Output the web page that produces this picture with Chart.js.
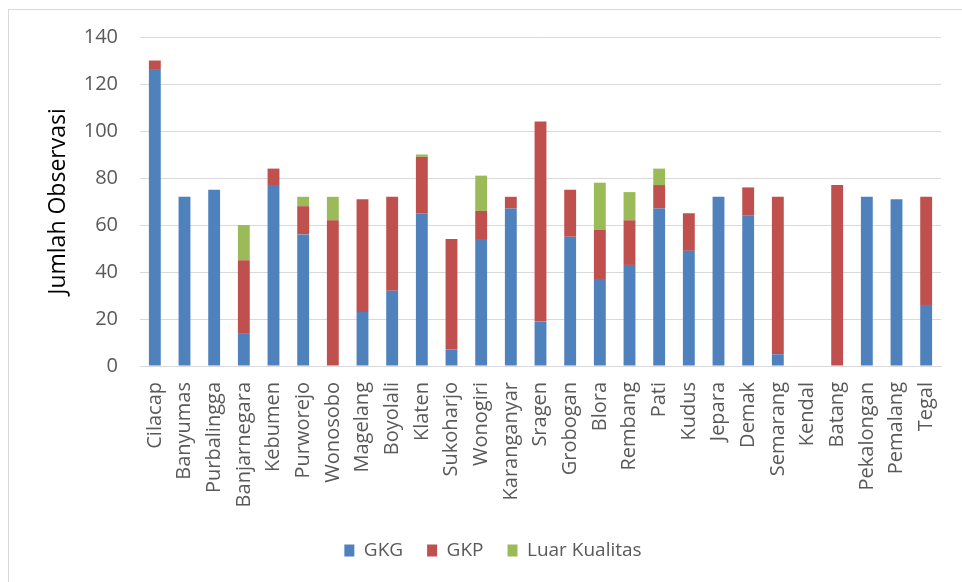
<!DOCTYPE html>
<html>
<head>
<meta charset="utf-8">
<script src="https://cdn.jsdelivr.net/npm/chart.js@4"></script>
<style>
  html, body { margin: 0; padding: 0; background: #fff; }
  #wrap { position: relative; width: 962px; height: 582px; overflow: hidden; }
  #frame { position: absolute; left: 8px; top: 9px; width: 1000px; height: 700px; border: 1px solid #d9d9d9; }
  #obsChart { position: absolute; left: 0; top: 0; }
</style>
</head>
<body>
<div id="wrap">
  <div id="frame"></div>
  <canvas id="obsChart" width="962" height="582"></canvas>
</div>
<script>
const kabupaten = ['Cilacap', 'Banyumas', 'Purbalingga', 'Banjarnegara', 'Kebumen', 'Purworejo', 'Wonosobo',
    'Magelang', 'Boyolali', 'Klaten', 'Sukoharjo', 'Wonogiri', 'Karanganyar', 'Sragen', 'Grobogan', 'Blora',
    'Rembang', 'Pati', 'Kudus', 'Jepara', 'Demak', 'Semarang', 'Kendal', 'Batang', 'Pekalongan', 'Pemalang', 'Tegal'];
const gkg = [126, 72, 75, 14, 77, 56, 0, 23, 32, 65, 7, 54, 67, 19, 55, 37, 43, 67, 49, 72, 64, 5, 0, 0, 72, 71, 26];
const gkp = [4, 0, 0, 31, 7, 12, 62, 48, 40, 24, 47, 12, 5, 85, 20, 21, 19, 10, 16, 0, 12, 67, 0, 77, 0, 0, 46];
const luarKualitas = [0, 0, 0, 15, 0, 4, 10, 0, 0, 1, 0, 15, 0, 0, 0, 20, 12, 7, 0, 0, 0, 0, 0, 0, 0, 0, 0];
const yTicks = [0, 20, 40, 60, 80, 100, 120, 140];

document.addEventListener("DOMContentLoaded", function () {
    const ctx = document.getElementById('obsChart').getContext('2d');
    const txt = '#595959';

    new Chart(ctx, {
        type: 'bar',
        data: {
            labels: kabupaten,
            datasets: [
                { label: 'GKG', data: gkg, backgroundColor: '#4f81bd' },
                { label: 'GKP', data: gkp, backgroundColor: '#c0504d' },
                { label: 'Luar Kualitas', data: luarKualitas, backgroundColor: '#9bbb59' }
            ]
        },
        options: {
            responsive: false,
            animation: false,
            layout: { padding: { left: 45, top: 37, right: 21, bottom: 12 } },
            datasets: { bar: { categoryPercentage: 1, barPercentage: 0.4 } },
            scales: {
                x: {
                    stacked: true,
                    grid: { display: false },
                    border: { color: '#d9d9d9' },
                    ticks: {
                        color: txt,
                        font: { family: 'Open Sans', size: 20 },
                        minRotation: 90,
                        maxRotation: 90,
                        autoSkip: false,
                        padding: 8
                    },
                    afterFit: function (s) { s.height = 151; }
                },
                y: {
                    stacked: true,
                    min: 0,
                    max: 140,
                    afterBuildTicks: function (s) { s.ticks = yTicks.map(v => ({ value: v })); },
                    grid: { color: '#d9d9d9', drawTicks: false },
                    border: { display: false },
                    ticks: { color: txt, font: { family: 'Open Sans', size: 20 }, padding: 22 },
                    title: {
                        display: true,
                        text: 'Jumlah Observasi',
                        color: '#000',
                        font: { family: 'Open Sans', size: 23 },
                        padding: { top: 0, bottom: 0 }
                    },
                    afterFit: function (s) { s.width = 95; }
                }
            },
            plugins: {
                legend: {
                    position: 'bottom',
                    labels: {
                        color: txt,
                        font: { family: 'Open Sans', size: 19 },
                        boxWidth: 10,
                        boxHeight: 12,
                        padding: 24
                    }
                },
                title: { display: false },
                tooltip: { enabled: false }
            }
        }
    });
});
</script>
</body>
</html>
